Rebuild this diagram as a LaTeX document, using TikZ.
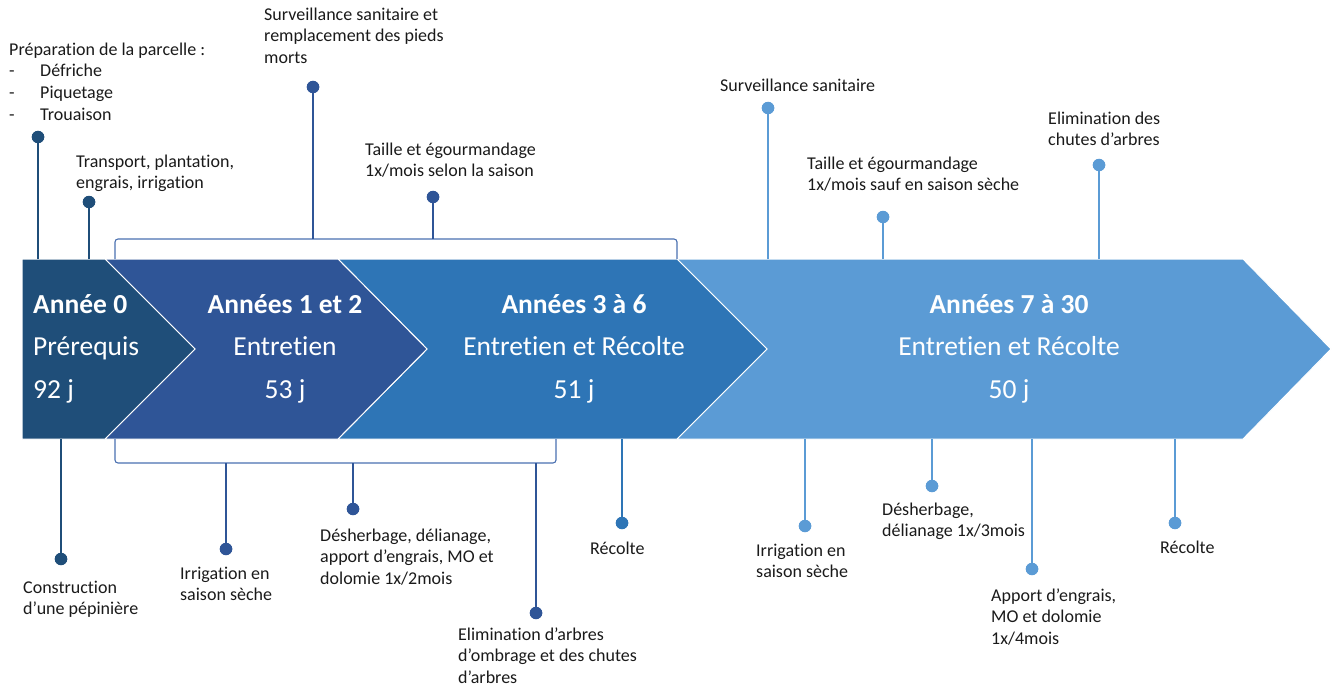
\documentclass[tikz,border=0pt]{standalone}
\usepackage{fontspec}
\setmainfont{Carlito}[Ligatures=NoCommon]
\definecolor{cA}{HTML}{1F4E79}
\definecolor{cB}{HTML}{2F5597}
\definecolor{cC}{HTML}{2E75B6}
\definecolor{cD}{HTML}{5B9BD5}
\definecolor{cBr}{HTML}{4A70B0}
\definecolor{txt}{HTML}{1A1A1A}
\begin{document}
\begin{tikzpicture}[x=1pt,y=-1pt,
  band/.style={fill=#1, draw=white, line width=1pt, line join=miter},
  btxt/.style={text=white, inner sep=0, font=\fontsize{27.5}{42.5}\selectfont},
  lbl/.style={anchor=north west, inner sep=0, align=left, text=txt, font=\fontsize{18}{21.7}\selectfont},
  dot/.style={circle, fill=#1, inner sep=0, minimum width=12.5pt, minimum height=11.5pt},
  stem/.style={draw=#1, line width=1.3pt},
  brk/.style={draw=cBr, line width=1.1pt, rounded corners=3pt}]
\useasboundingbox (0,0) rectangle (1340,687);

% ---- band shapes
\path[band=cD] (677,259) -- (1243,259) -- (1331,349) -- (1243,439) -- (677,439) -- (767,349) -- cycle;
\path[band=cC] (338,259) -- (677,259) -- (767,349) -- (677,439) -- (338,439) -- (427,349) -- cycle;
\path[band=cB] (105,259) -- (338,259) -- (427,349) -- (338,439) -- (105,439) -- (195,349) -- cycle;
\path[band=cA] (22,259) -- (105,259) -- (195,349) -- (105,439) -- (22,439) -- cycle;

% ---- band texts
\node[btxt, anchor=north west, align=left] (t0) at (33,283.25) {\strut\textbf{Année 0}\\Prérequis\\92 j};
\node[btxt, anchor=north, align=center] (t1) at (285,283.25) {\strut\textbf{Années 1 et 2}\\Entretien\\53 j};
\node[btxt, anchor=north, align=center] (t2) at (574,283.25) {\strut\textbf{Années 3 à 6}\\Entretien et Récolte\\51 j};
\node[btxt, anchor=north, align=center] (t3) at (1009,283.25) {\strut\textbf{Années 7 à 30}\\Entretien et Récolte\\50 j};

% ---- brackets
\draw[brk] (115,259) -- (115,239) -- (677,239) -- (677,259);
\draw[brk] (115,439) -- (115,463) -- (556,463) -- (556,439);

% ---- anchor points on band / brackets
\coordinate (a1) at (38,259);
\coordinate (a2) at (89,259);
\coordinate (a3) at (313,239);
\coordinate (a4) at (433,239);
\coordinate (a5) at (768,259);
\coordinate (a6) at (883,259);
\coordinate (a7) at (1099,259);
\coordinate (a8) at (61,439);
\coordinate (a9) at (226,463);
\coordinate (a10) at (353,463);
\coordinate (a11) at (536,463);
\coordinate (a12) at (622,439);
\coordinate (a13) at (805,439);
\coordinate (a14) at (932,439);
\coordinate (a15) at (1032,439);
\coordinate (a16) at (1175,439);

% ---- dots
\node[dot=cA] (d1) at (38,137) {};
\node[dot=cA] (d2) at (89,202) {};
\node[dot=cB] (d3) at (313,87) {};
\node[dot=cB] (d4) at (433,197) {};
\node[dot=cD] (d5) at (768,108) {};
\node[dot=cD] (d6) at (883,217) {};
\node[dot=cD] (d7) at (1099,165) {};
\node[dot=cA] (d8) at (61,559) {};
\node[dot=cB] (d9) at (226,549) {};
\node[dot=cB] (d10) at (353,509) {};
\node[dot=cB] (d11) at (536,613) {};
\node[dot=cC] (d12) at (622,523) {};
\node[dot=cD] (d13) at (805,526) {};
\node[dot=cD] (d14) at (932,486) {};
\node[dot=cD] (d15) at (1032,569) {};
\node[dot=cD] (d16) at (1175,523) {};

% ---- stems
\path[stem=cA] (a1) -- (d1.center);
\path[stem=cA] (a2) -- (d2.center);
\path[stem=cB] (a3) -- (d3.center);
\path[stem=cB] (a4) -- (d4.center);
\path[stem=cD] (a5) -- (d5.center);
\path[stem=cD] (a6) -- (d6.center);
\path[stem=cD] (a7) -- (d7.center);
\path[stem=cA] (a8) -- (d8.center);
\path[stem=cB] (a9) -- (d9.center);
\path[stem=cB] (a10) -- (d10.center);
\path[stem=cB] (a11) -- (d11.center);
\path[stem=cC] (a12) -- (d12.center);
\path[stem=cD] (a13) -- (d13.center);
\path[stem=cD] (a14) -- (d14.center);
\path[stem=cD] (a15) -- (d15.center);
\path[stem=cD] (a16) -- (d16.center);
% redraw dots above stems
\foreach \d/\c in {d1/cA,d2/cA,d3/cB,d4/cB,d5/cD,d6/cD,d7/cD,d8/cA,d9/cB,d10/cB,d11/cB,d12/cC,d13/cD,d14/cD,d15/cD,d16/cD}
  \fill[\c] (\d.center) ellipse (6.25pt and 5.75pt);

% ---- labels (y = baseline - 15.2)
\node[lbl] (l1) at (9,39.8) {\strut Préparation de la parcelle :\\\makebox[31pt][l]{-}Défriche\\\makebox[31pt][l]{-}Piquetage\\\makebox[31pt][l]{-}Trouaison};
\node[lbl] (l2) at (76,151.8) {\strut Transport, plantation,\\engrais, irrigation};
\node[lbl] (l3) at (264,4.8) {\strut Surveillance sanitaire et\\remplacement des pieds\\morts};
\node[lbl] (l4) at (365,139.8) {\strut Taille et égourmandage\\1x/mois selon la saison};
\node[lbl] (l5) at (720,75.8) {\strut Surveillance sanitaire};
\node[lbl] (l6) at (807,153.8) {\strut Taille et égourmandage\\1x/mois sauf en saison sèche};
\node[lbl] (l7) at (1048,108.8) {\strut Elimination des\\chutes d’arbres};
\node[lbl] (l8) at (23,577.8) {\strut Construction\\d’une pépinière};
\node[lbl] (l9) at (180,563.8) {\strut Irrigation en\\saison sèche};
\node[lbl] (l10) at (320,525.8) {\strut Désherbage, délianage,\\apport d’engrais, MO et\\dolomie 1x/2mois};
\node[lbl] (l11) at (458,624.8) {\strut Elimination d’arbres\\d’ombrage et des chutes\\d’arbres};
\node[lbl] (l12) at (590,538.8) {\strut Récolte};
\node[lbl] (l13) at (756,540.8) {\strut Irrigation en\\saison sèche};
\node[lbl] (l14) at (882,499.8) {\strut Désherbage,\\délianage 1x/3mois};
\node[lbl] (l15) at (991,585.8) {\strut Apport d’engrais,\\MO et dolomie\\1x/4mois};
\node[lbl] (l16) at (1160,537.8) {\strut Récolte};
\end{tikzpicture}
\end{document}
